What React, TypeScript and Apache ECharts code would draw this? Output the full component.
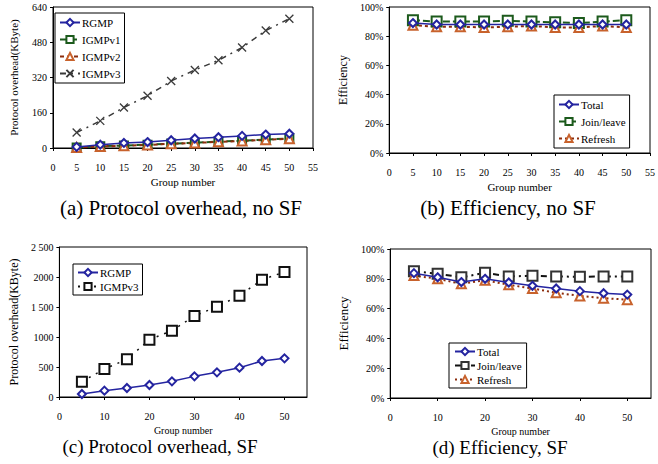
import React, { useEffect, useRef } from "react";
import * as echarts from "echarts";

const groups = [5, 10, 15, 20, 25, 30, 35, 40, 45, 50];

// (a) Protocol overhead, no SF (KByte)
const aRGMP = [5, 15, 23, 27, 35, 43, 49, 55, 61, 65];
const aIGMPv1 = [2, 8, 11, 15, 20, 24, 29, 33, 38, 44];
const aIGMPv2 = [2, 7, 10, 14, 19, 23, 28, 32, 37, 42];
const aIGMPv3 = [70, 123, 184, 237, 304, 354, 398, 456, 533, 587];

// (b) Efficiency, no SF (%)
const bTotal = [89, 88, 88, 88, 88, 88, 88, 88, 88, 88];
const bJoin = [91, 90, 90, 90, 90.5, 90, 89.5, 89, 90, 91];
const bRefresh = [87.5, 86.5, 86.5, 86, 86.5, 87, 86, 86, 87, 86];

// (c) Protocol overhead, SF (KByte)
const cRGMP = [50, 106, 150, 200, 261, 344, 411, 489, 600, 644];
const cIGMPv3 = [256, 467, 628, 956, 1106, 1350, 1506, 1689, 1956, 2083];
const cYTicks = ["0", "500", "1000", "1 500", "2000", "2 500"];

// (d) Efficiency, SF (%)
const dTotal = [83.8, 81, 77.8, 80, 77.5, 75.3, 73.5, 71.7, 70.3, 69.4];
const dJoin = [85, 83.4, 81, 84, 81.6, 82, 81.6, 81.3, 81.6, 81.6];
const dRefresh = [82.2, 80, 76.6, 79, 76, 73.5, 70.6, 68.5, 67, 66];

const SERIF = '"Liberation Serif", "Times New Roman", serif';
const BLUE = "#2424a0";
const GREEN = "#1c5a1c";
const ORANGE = "#c8622c";
const BROWN = "#8c2c0c";
const DARK = "#3a3a3a";
const X_PATH = "path://M0,0L10,10M10,0L0,10";

const pts = (ys: number[]) => groups.map((g, i) => [g, ys[i]]);

function line(name: string, ys: number[], o: any) {
  const isPath = String(o.symbol).startsWith("path://");
  return {
    type: "line",
    name,
    data: pts(ys),
    symbol: o.symbol,
    symbolSize: o.size ?? 8,
    showAllSymbol: true,
    lineStyle: { color: o.line, width: o.width ?? 1.5, type: o.dash ?? "solid" },
    itemStyle: isPath
      ? { color: o.mark, borderColor: o.mark, borderWidth: 1.3 }
      : { color: o.mark, borderColor: o.mark, borderWidth: o.bw ?? 1 },
    z: o.z ?? 2,
  };
}

function baseOption(p: any) {
  const axisText = { fontFamily: SERIF, fontSize: 10, color: "#000" };
  return {
    animation: false,
    backgroundColor: "#fff",
    grid: {
      left: p.grid[0], top: p.grid[1], width: p.grid[2], height: p.grid[3],
      show: true, borderColor: "#000", borderWidth: 1, backgroundColor: "transparent",
    },
    xAxis: {
      type: "value", min: 0, max: 55, interval: p.xInterval,
      name: "Group number", nameLocation: "middle", nameGap: p.xNameGap ?? 28,
      nameTextStyle: { fontFamily: SERIF, fontSize: p.xNameSize ?? 11, color: "#000" },
      axisLine: { lineStyle: { color: "#000", width: 1 } },
      axisTick: { show: true, length: 3, lineStyle: { color: "#000" } },
      axisLabel: { ...axisText, margin: 14, showMaxLabel: p.showMax },
      splitLine: { show: false },
    },
    yAxis: {
      type: "value", min: 0, max: p.yMax, interval: p.yInterval,
      name: p.yName, nameLocation: "middle", nameGap: p.yNameGap, nameRotate: 90,
      nameTextStyle: { fontFamily: SERIF, fontSize: p.yNameSize ?? 11, color: "#000" },
      axisLine: { show: true, lineStyle: { color: "#000", width: 1 } },
      axisTick: { show: true, length: 3, lineStyle: { color: "#000" } },
      axisLabel: { ...axisText, margin: 6, formatter: p.yFormatter },
      splitLine: { show: false },
    },
    legend: {
      orient: "vertical",
      left: p.legend[0], top: p.legend[1],
      backgroundColor: "#fff", borderColor: "#000", borderWidth: 1,
      padding: p.legendPad ?? [4, 4], itemGap: p.legendGap ?? 4,
      itemWidth: 20, itemHeight: 9,
      textStyle: { fontFamily: SERIF, fontSize: 11, color: "#000", padding: [0, 0, 0, -3] },
      data: p.legendData,
    },
    graphic: [
      {
        type: "text", x: p.caption[1], y: p.caption[2],
        style: {
          text: p.caption[0], font: `${p.captionSize}px ${SERIF}`, fill: "#000",
          textAlign: "center", textVerticalAlign: "middle",
        },
      },
    ],
    series: p.series,
  };
}

const optA = baseOption({
  grid: [48, 7, 265, 141], xInterval: 5, showMax: true,
  yMax: 640, yInterval: 160, yName: "Protocol overhead(KByte)", yNameGap: 34,
  legend: [55, 13], legendGap: 6, legendData: ["RGMP", "IGMPv1", "IGMPv2", "IGMPv3"],
  caption: ["(a) Protocol overhead, no SF", 181, 208], captionSize: 21,
  series: [
    line("RGMP", aRGMP, { symbol: "emptyDiamond", line: BLUE, mark: BLUE, size: 8, z: 4 }),
    line("IGMPv1", aIGMPv1, { symbol: "emptyRect", line: GREEN, mark: GREEN, size: 8, width: 2, dash: [7, 3] }),
    line("IGMPv2", aIGMPv2, { symbol: "emptyTriangle", line: BROWN, mark: ORANGE, size: 9, width: 2, dash: [4, 3] }),
    line("IGMPv3", aIGMPv3, { symbol: X_PATH, line: DARK, mark: DARK, size: 8, width: 1.5, dash: [6, 5, 2, 5] }),
  ],
});

const optB = baseOption({
  grid: [50, 7, 274, 146], xInterval: 5, showMax: true,
  yMax: 100, yInterval: 20, yName: "Efficiency", yNameGap: 38, yNameSize: 12,
  yFormatter: "{value}%",
  legend: [225, 95], legendGap: 6, legendData: ["Total", "Join/leave", "Refresh"],
  caption: ["(b) Efficiency, no SF", 179, 208], captionSize: 21,
  series: [
    line("Total", bTotal, { symbol: "emptyDiamond", line: BLUE, mark: BLUE, size: 8, z: 4 }),
    line("Join/leave", bJoin, { symbol: "emptyRect", line: GREEN, mark: GREEN, size: 10, width: 2, dash: [7, 3] }),
    line("Refresh", bRefresh, { symbol: "emptyTriangle", line: BROWN, mark: ORANGE, size: 9, width: 2, dash: [3, 3] }),
  ],
});

const optC = baseOption({
  grid: [49, 15, 258, 150], xInterval: 10, showMax: false,
  yMax: 2500, yInterval: 500, yName: "Protocol overhead(KByte)", yNameGap: 35, yNameSize: 12,
  yFormatter: (v: number) => cYTicks[Math.round(v / 500)] ?? String(v),
  xNameGap: 21, xNameSize: 10,
  legend: [73, 32], legendGap: 3, legendPad: [3, 4], legendData: ["RGMP", "IGMPv3"],
  caption: ["(c) Protocol overhead, SF", 160, 214], captionSize: 19,
  series: [
    line("RGMP", cRGMP, { symbol: "emptyDiamond", line: BLUE, mark: BLUE, size: 8, z: 4 }),
    line("IGMPv3", cIGMPv3, { symbol: "emptyRect", line: "#111", mark: "#111", size: 10, width: 1.5, dash: [2, 6] }),
  ],
});

const optD = baseOption({
  grid: [52, 17, 270, 149], xInterval: 10, showMax: false,
  yMax: 100, yInterval: 20, yName: "Efficiency", yNameGap: 38, yNameSize: 13,
  yFormatter: "{value}%",
  xNameGap: 21, xNameSize: 10,
  legend: [120, 111], legendGap: 3, legendPad: [3, 5], legendData: ["Total", "Join/leave", "Refresh"],
  caption: ["(d) Efficiency, SF", 171, 215], captionSize: 19,
  series: [
    line("Total", dTotal, { symbol: "emptyDiamond", line: BLUE, mark: BLUE, size: 8, z: 4 }),
    line("Join/leave", dJoin, { symbol: "emptyRect", line: "#111", mark: "#333", size: 10, width: 2, dash: [6, 4, 2, 4] }),
    line("Refresh", dRefresh, { symbol: "emptyTriangle", line: BROWN, mark: ORANGE, size: 9, width: 2, dash: [2, 3] }),
  ],
});

function Panel({ option, left, top }: { option: any; left: number; top: number }) {
  const ref = useRef<HTMLDivElement>(null);
  useEffect(() => {
    if (!ref.current) return;
    const chart = echarts.init(ref.current, undefined, { renderer: "svg" });
    chart.setOption(option);
    return () => chart.dispose();
  }, [option]);
  return (
    <div
      ref={ref}
      style={{ position: "absolute", left, top, width: 329, height: 232 }}
    />
  );
}

export default function App() {
  return (
    <div style={{ position: "fixed", left: 0, top: 0, width: 658, height: 464, background: "#fff", overflow: "hidden" }}>
      <Panel option={optA} left={0} top={0} />
      <Panel option={optB} left={329} top={0} />
      <Panel option={optC} left={0} top={232} />
      <Panel option={optD} left={329} top={232} />
    </div>
  );
}
